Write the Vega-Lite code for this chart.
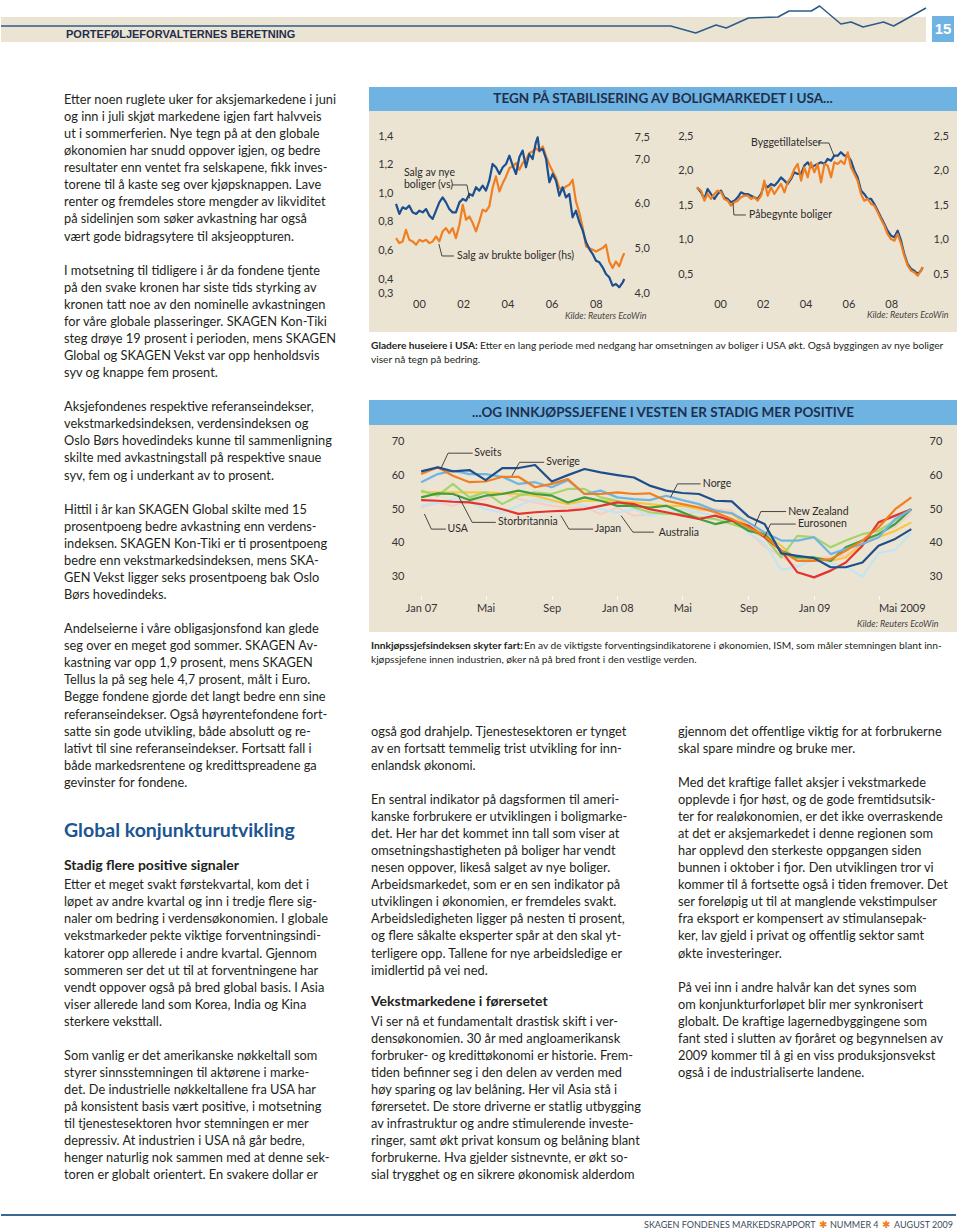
{
"$schema": "https://vega.github.io/schema/vega-lite/v6.json",
"padding": {"top": 5, "left": 0, "right": 0, "bottom": 0},
"autosize": {"type": "pad"},
"background": "white",
"config": {
  "font": "Lato",
  "view": {"stroke": null},
  "axis": {"domain": false, "ticks": false, "grid": false, "labelFontSize": 11, "labelColor": "#333333", "labelFont": "Lato", "titleFont": "Lato"},
  "line": {"strokeJoin": "round"}
},
"datasets": {
  "spark": [
    {"t": 0, "v": 16}, {"t": 72.4, "v": 16}, {"t": 75.1, "v": 9}, {"t": 77.3, "v": 17}, {"t": 78.4, "v": 14},
    {"t": 80.8, "v": 24}, {"t": 84.0, "v": 25}, {"t": 85.2, "v": 31}, {"t": 87.6, "v": 31}, {"t": 88.5, "v": 36},
    {"t": 90.8, "v": 18}, {"t": 91.9, "v": 20}, {"t": 93.2, "v": 15}, {"t": 95.4, "v": 20}, {"t": 96.5, "v": 16}, {"t": 100, "v": 34}
  ],
  "husA": [
    {"year": 1998.96, "nye": 0.926, "brukte": 5.235}, {"year": 1999.11, "nye": 0.856, "brukte": 5.123},
    {"year": 1999.26, "nye": 0.902, "brukte": 5.161}, {"year": 1999.41, "nye": 0.891, "brukte": 5.422},
    {"year": 1999.56, "nye": 0.914, "brukte": 5.198}, {"year": 1999.71, "nye": 0.867, "brukte": 5.161},
    {"year": 1999.87, "nye": 0.856, "brukte": 5.086}, {"year": 2000.02, "nye": 0.879, "brukte": 5.198},
    {"year": 2000.17, "nye": 0.867, "brukte": 5.161}, {"year": 2000.32, "nye": 0.891, "brukte": 5.198},
    {"year": 2000.47, "nye": 0.844, "brukte": 5.123}, {"year": 2000.62, "nye": 0.821, "brukte": 5.161},
    {"year": 2000.77, "nye": 0.879, "brukte": 5.273}, {"year": 2000.92, "nye": 0.937, "brukte": 5.161},
    {"year": 2001.07, "nye": 0.972, "brukte": 5.385}, {"year": 2001.22, "nye": 0.937, "brukte": 5.46},
    {"year": 2001.37, "nye": 0.891, "brukte": 5.348}, {"year": 2001.52, "nye": 0.867, "brukte": 5.46},
    {"year": 2001.67, "nye": 0.867, "brukte": 5.235}, {"year": 2001.83, "nye": 0.937, "brukte": 5.534},
    {"year": 2001.98, "nye": 0.961, "brukte": 5.983}, {"year": 2002.13, "nye": 0.949, "brukte": 5.646},
    {"year": 2002.28, "nye": 0.996, "brukte": 5.721}, {"year": 2002.43, "nye": 0.984, "brukte": 5.572},
    {"year": 2002.58, "nye": 1.043, "brukte": 5.385}, {"year": 2002.73, "nye": 1.019, "brukte": 5.609},
    {"year": 2002.88, "nye": 1.054, "brukte": 5.871}, {"year": 2003.03, "nye": 1.019, "brukte": 5.833},
    {"year": 2003.18, "nye": 1.089, "brukte": 5.945}, {"year": 2003.33, "nye": 1.206, "brukte": 6.357},
    {"year": 2003.48, "nye": 1.183, "brukte": 6.618}, {"year": 2003.64, "nye": 1.136, "brukte": 6.282},
    {"year": 2003.79, "nye": 1.183, "brukte": 6.469}, {"year": 2003.94, "nye": 1.206, "brukte": 6.618},
    {"year": 2004.09, "nye": 1.264, "brukte": 6.805}, {"year": 2004.24, "nye": 1.194, "brukte": 6.842},
    {"year": 2004.39, "nye": 1.136, "brukte": 6.917}, {"year": 2004.54, "nye": 1.253, "brukte": 6.768},
    {"year": 2004.69, "nye": 1.3, "brukte": 6.917}, {"year": 2004.84, "nye": 1.183, "brukte": 6.992},
    {"year": 2004.99, "nye": 1.276, "brukte": 7.141}, {"year": 2005.14, "nye": 1.241, "brukte": 7.179},
    {"year": 2005.29, "nye": 1.358, "brukte": 7.253}, {"year": 2005.37, "nye": 1.393, "brukte": 7.216},
    {"year": 2005.45, "nye": 1.3, "brukte": 7.179}, {"year": 2005.6, "nye": 1.311, "brukte": 7.291},
    {"year": 2005.75, "nye": 1.241, "brukte": 7.067}, {"year": 2005.9, "nye": 1.078, "brukte": 6.88},
    {"year": 2006.05, "nye": 1.136, "brukte": 6.73}, {"year": 2006.2, "nye": 1.089, "brukte": 6.581},
    {"year": 2006.35, "nye": 0.984, "brukte": 6.357}, {"year": 2006.5, "nye": 1.043, "brukte": 6.319},
    {"year": 2006.65, "nye": 0.972, "brukte": 6.394}, {"year": 2006.8, "nye": 0.996, "brukte": 6.431},
    {"year": 2006.95, "nye": 0.832, "brukte": 6.543}, {"year": 2007.1, "nye": 0.879, "brukte": 6.058},
    {"year": 2007.26, "nye": 0.797, "brukte": 5.796}, {"year": 2007.41, "nye": 0.739, "brukte": 5.46},
    {"year": 2007.56, "nye": 0.657, "brukte": 5.049}, {"year": 2007.71, "nye": 0.61, "brukte": 5.011},
    {"year": 2007.86, "nye": 0.575, "brukte": 4.974}, {"year": 2008.01, "nye": 0.528, "brukte": 4.937},
    {"year": 2008.16, "nye": 0.517, "brukte": 4.974}, {"year": 2008.31, "nye": 0.482, "brukte": 5.011},
    {"year": 2008.46, "nye": 0.435, "brukte": 5.086}, {"year": 2008.61, "nye": 0.412, "brukte": 4.712},
    {"year": 2008.76, "nye": 0.353, "brukte": 4.563}, {"year": 2008.91, "nye": 0.365, "brukte": 4.712},
    {"year": 2009.06, "nye": 0.342, "brukte": 4.6}, {"year": 2009.22, "nye": 0.377, "brukte": 4.824},
    {"year": 2009.29, "nye": 0.4, "brukte": 4.899}
  ],
  "husB": [
    {"year": 1998.93, "bygg": 1.759, "pabeg": 1.759}, {"year": 1999.11, "bygg": 1.686, "pabeg": 1.711},
    {"year": 1999.27, "bygg": 1.59, "pabeg": 1.565}, {"year": 1999.42, "bygg": 1.735, "pabeg": 1.662},
    {"year": 1999.58, "bygg": 1.662, "pabeg": 1.59}, {"year": 1999.74, "bygg": 1.59, "pabeg": 1.662},
    {"year": 1999.89, "bygg": 1.662, "pabeg": 1.711}, {"year": 2000.05, "bygg": 1.711, "pabeg": 1.686},
    {"year": 2000.2, "bygg": 1.614, "pabeg": 1.59}, {"year": 2000.36, "bygg": 1.59, "pabeg": 1.565},
    {"year": 2000.51, "bygg": 1.541, "pabeg": 1.493}, {"year": 2000.67, "bygg": 1.565, "pabeg": 1.541},
    {"year": 2000.83, "bygg": 1.614, "pabeg": 1.565}, {"year": 2000.98, "bygg": 1.686, "pabeg": 1.614},
    {"year": 2001.14, "bygg": 1.662, "pabeg": 1.638}, {"year": 2001.29, "bygg": 1.662, "pabeg": 1.638},
    {"year": 2001.45, "bygg": 1.638, "pabeg": 1.59}, {"year": 2001.6, "bygg": 1.614, "pabeg": 1.614},
    {"year": 2001.76, "bygg": 1.59, "pabeg": 1.565}, {"year": 2001.92, "bygg": 1.662, "pabeg": 1.638},
    {"year": 2002.07, "bygg": 1.808, "pabeg": 1.856}, {"year": 2002.23, "bygg": 1.759, "pabeg": 1.638},
    {"year": 2002.38, "bygg": 1.808, "pabeg": 1.759}, {"year": 2002.54, "bygg": 1.783, "pabeg": 1.662},
    {"year": 2002.69, "bygg": 1.832, "pabeg": 1.735}, {"year": 2002.85, "bygg": 1.904, "pabeg": 1.808},
    {"year": 2003.01, "bygg": 1.856, "pabeg": 1.686}, {"year": 2003.16, "bygg": 1.808, "pabeg": 1.832},
    {"year": 2003.32, "bygg": 1.88, "pabeg": 1.904}, {"year": 2003.47, "bygg": 1.977, "pabeg": 2.025},
    {"year": 2003.63, "bygg": 1.953, "pabeg": 2.098}, {"year": 2003.79, "bygg": 1.953, "pabeg": 1.856},
    {"year": 2003.94, "bygg": 2.074, "pabeg": 2.05}, {"year": 2004.1, "bygg": 2.122, "pabeg": 1.904},
    {"year": 2004.25, "bygg": 2.05, "pabeg": 2.122}, {"year": 2004.41, "bygg": 2.074, "pabeg": 1.977},
    {"year": 2004.56, "bygg": 2.098, "pabeg": 2.098}, {"year": 2004.72, "bygg": 2.122, "pabeg": 1.832},
    {"year": 2004.88, "bygg": 2.098, "pabeg": 2.098}, {"year": 2005.03, "bygg": 2.171, "pabeg": 2.074},
    {"year": 2005.19, "bygg": 2.146, "pabeg": 1.904}, {"year": 2005.34, "bygg": 2.219, "pabeg": 2.122},
    {"year": 2005.5, "bygg": 2.219, "pabeg": 2.098}, {"year": 2005.65, "bygg": 2.268, "pabeg": 2.146},
    {"year": 2005.81, "bygg": 2.219, "pabeg": 2.098}, {"year": 2005.97, "bygg": 2.219, "pabeg": 2.268},
    {"year": 2006.12, "bygg": 2.146, "pabeg": 2.05}, {"year": 2006.28, "bygg": 2.001, "pabeg": 1.953},
    {"year": 2006.43, "bygg": 1.904, "pabeg": 1.856}, {"year": 2006.59, "bygg": 1.711, "pabeg": 1.662},
    {"year": 2006.74, "bygg": 1.662, "pabeg": 1.565}, {"year": 2006.9, "bygg": 1.59, "pabeg": 1.59},
    {"year": 2007.06, "bygg": 1.59, "pabeg": 1.517}, {"year": 2007.21, "bygg": 1.517, "pabeg": 1.493},
    {"year": 2007.37, "bygg": 1.42, "pabeg": 1.396}, {"year": 2007.52, "bygg": 1.323, "pabeg": 1.299},
    {"year": 2007.68, "bygg": 1.226, "pabeg": 1.202}, {"year": 2007.83, "bygg": 1.13, "pabeg": 1.081},
    {"year": 2007.99, "bygg": 1.057, "pabeg": 1.008}, {"year": 2008.15, "bygg": 1.033, "pabeg": 0.984},
    {"year": 2008.3, "bygg": 1.13, "pabeg": 1.081}, {"year": 2008.46, "bygg": 0.984, "pabeg": 0.936},
    {"year": 2008.61, "bygg": 0.791, "pabeg": 0.766}, {"year": 2008.77, "bygg": 0.645, "pabeg": 0.621},
    {"year": 2008.93, "bygg": 0.573, "pabeg": 0.548}, {"year": 2009.08, "bygg": 0.548, "pabeg": 0.524},
    {"year": 2009.24, "bygg": 0.5, "pabeg": 0.476}, {"year": 2009.39, "bygg": 0.548, "pabeg": 0.548},
    {"year": 2009.47, "bygg": 0.597, "pabeg": 0.597}
  ],
  "ism": [
    {"date": "2007-01-01", "Norge": 61.2, "Sveits": 60.4, "Sverige": 58.0, "Storbritannia": 55.5, "Eurosonen": 53.5, "Japan": 52.7, "Australia": 55.0, "New Zealand": 51, "USA": 50.5},
    {"date": "2007-02-01", "Norge": 62.4, "Sveits": 62.4, "Sverige": 60.4, "Storbritannia": 54.0, "Eurosonen": 54.7, "Japan": 52.5, "Australia": 55.0, "New Zealand": 52, "USA": 52.0},
    {"date": "2007-03-01", "Norge": 61.2, "Sveits": 59.9, "Sverige": 61.4, "Storbritannia": 57.5, "Eurosonen": 54.5, "Japan": 52.2, "Australia": 55.0, "New Zealand": 53, "USA": 51.0},
    {"date": "2007-04-01", "Norge": 61.6, "Sveits": 58.0, "Sverige": 60.4, "Storbritannia": 53.5, "Eurosonen": 52.7, "Japan": 52.0, "Australia": 55.0, "New Zealand": 52, "USA": 52.5},
    {"date": "2007-05-01", "Norge": 58.6, "Sveits": 58.2, "Sverige": 60.4, "Storbritannia": 55.0, "Eurosonen": 54.0, "Japan": 51.3, "Australia": 55.0, "New Zealand": 50, "USA": 53.0},
    {"date": "2007-06-01", "Norge": 62.2, "Sveits": 59.6, "Sverige": 59.6, "Storbritannia": 51.5, "Eurosonen": 54.5, "Japan": 50.0, "Australia": 54.7, "New Zealand": 49, "USA": 55.0},
    {"date": "2007-07-01", "Norge": 62.2, "Sveits": 59.6, "Sverige": 57.5, "Storbritannia": 54.0, "Eurosonen": 55.5, "Japan": 48.6, "Australia": 54.5, "New Zealand": 51, "USA": 53.0},
    {"date": "2007-08-01", "Norge": 63.1, "Sveits": 56.5, "Sverige": 58.0, "Storbritannia": 55.0, "Eurosonen": 54.5, "Japan": 49.1, "Australia": 54.0, "New Zealand": 53, "USA": 52.0},
    {"date": "2007-09-01", "Norge": 58.2, "Sveits": 57.5, "Sverige": 56.5, "Storbritannia": 54.5, "Eurosonen": 54.0, "Japan": 49.4, "Australia": 52.7, "New Zealand": 52, "USA": 51.0},
    {"date": "2007-10-01", "Norge": 60.1, "Sveits": 58.9, "Sverige": 58.6, "Storbritannia": 56.0, "Eurosonen": 52.0, "Japan": 49.6, "Australia": 51.5, "New Zealand": 52, "USA": 50.5},
    {"date": "2007-11-01", "Norge": 61.9, "Sveits": 54.5, "Sverige": 54.5, "Storbritannia": 56.0, "Eurosonen": 53.5, "Japan": 50.0, "Australia": 52.5, "New Zealand": 51, "USA": 50.8},
    {"date": "2007-12-01", "Norge": 60.9, "Sveits": 54.5, "Sverige": 55.5, "Storbritannia": 53.5, "Eurosonen": 52.5, "Japan": 51.0, "Australia": 52.5, "New Zealand": 50, "USA": 48.5},
    {"date": "2008-01-01", "Norge": 60.1, "Sveits": 55.0, "Sverige": 53.5, "Storbritannia": 52.5, "Eurosonen": 51.0, "Japan": 52.0, "Australia": 52.3, "New Zealand": 49, "USA": 50.5},
    {"date": "2008-02-01", "Norge": 59.4, "Sveits": 54.5, "Sverige": 53.0, "Storbritannia": 50.5, "Eurosonen": 51.0, "Japan": 51.5, "Australia": 52.0, "New Zealand": 50, "USA": 48.0},
    {"date": "2008-03-01", "Norge": 57.0, "Sveits": 54.7, "Sverige": 52.7, "Storbritannia": 49.1, "Eurosonen": 50.5, "Japan": 50.0, "Australia": 51.5, "New Zealand": 48, "USA": 48.5},
    {"date": "2008-04-01", "Norge": 55.5, "Sveits": 52.5, "Sverige": 54.0, "Storbritannia": 48.6, "Eurosonen": 51.0, "Japan": 49.1, "Australia": 51.0, "New Zealand": 49, "USA": 49.0},
    {"date": "2008-05-01", "Norge": 54.8, "Sveits": 51.5, "Sverige": 52.7, "Storbritannia": 48.6, "Eurosonen": 49.1, "Japan": 48.1, "Australia": 51.0, "New Zealand": 50, "USA": 48.0},
    {"date": "2008-06-01", "Norge": 54.5, "Sveits": 50.5, "Sverige": 51.5, "Storbritannia": 47.6, "Eurosonen": 47.1, "Japan": 47.1, "Australia": 50.0, "New Zealand": 49, "USA": 49.5},
    {"date": "2008-07-01", "Norge": 52.5, "Sveits": 49.1, "Sverige": 49.6, "Storbritannia": 47.1, "Eurosonen": 45.6, "Japan": 48.1, "Australia": 49.6, "New Zealand": 48, "USA": 50.0},
    {"date": "2008-08-01", "Norge": 52.3, "Sveits": 47.1, "Sverige": 48.8, "Storbritannia": 45.6, "Eurosonen": 46.6, "Japan": 46.6, "Australia": 48.6, "New Zealand": 47, "USA": 49.5},
    {"date": "2008-09-01", "Norge": 47.8, "Sveits": 44.6, "Sverige": 46.1, "Storbritannia": 44.1, "Eurosonen": 43.6, "Japan": 45.1, "Australia": 45.1, "New Zealand": 43, "USA": 43.5},
    {"date": "2008-10-01", "Norge": 45.6, "Sveits": 42.1, "Sverige": 43.1, "Storbritannia": 41.7, "Eurosonen": 42.6, "Japan": 41.7, "Australia": 42.6, "New Zealand": 40, "USA": 38.9},
    {"date": "2008-11-01", "Norge": 36.9, "Sveits": 37.7, "Sverige": 40.7, "Storbritannia": 35.7, "Eurosonen": 37.7, "Japan": 37.7, "Australia": 39.2, "New Zealand": 32, "USA": 36.2},
    {"date": "2008-12-01", "Norge": 36.2, "Sveits": 34.7, "Sverige": 40.7, "Storbritannia": 42.1, "Eurosonen": 35.7, "Japan": 31.3, "Australia": 34.7, "New Zealand": 33, "USA": 32.9},
    {"date": "2009-01-01", "Norge": 35.5, "Sveits": 34.7, "Sverige": 41.7, "Storbritannia": 41.7, "Eurosonen": 35.7, "Japan": 29.8, "Australia": 35.2, "New Zealand": 35, "USA": 35.6},
    {"date": "2009-02-01", "Norge": 32.8, "Sveits": 35.2, "Sverige": 36.7, "Storbritannia": 38.7, "Eurosonen": 34.7, "Japan": 31.8, "Australia": 34.7, "New Zealand": 34, "USA": 35.8},
    {"date": "2009-03-01", "Norge": 32.8, "Sveits": 37.7, "Sverige": 38.2, "Storbritannia": 40.7, "Eurosonen": 38.7, "Japan": 34.2, "Australia": 35.7, "New Zealand": 33, "USA": 36.3},
    {"date": "2009-04-01", "Norge": 34.2, "Sveits": 40.7, "Sverige": 39.7, "Storbritannia": 42.6, "Eurosonen": 40.7, "Japan": 39.2, "Australia": 39.7, "New Zealand": 30, "USA": 40.1},
    {"date": "2009-05-01", "Norge": 39.2, "Sveits": 44.6, "Sverige": 41.7, "Storbritannia": 43.6, "Eurosonen": 42.6, "Japan": 46.1, "Australia": 41.7, "New Zealand": 37, "USA": 42.8},
    {"date": "2009-06-01", "Norge": 41.2, "Sveits": 50.0, "Sverige": 47.1, "Storbritannia": 46.6, "Eurosonen": 45.6, "Japan": 48.1, "Australia": 43.6, "New Zealand": 38, "USA": 44.8},
    {"date": "2009-07-01", "Norge": 44.1, "Sveits": 53.5, "Sverige": 50.0, "Storbritannia": 50.0, "Eurosonen": 50.0, "Japan": 50.0, "Australia": 46.1, "New Zealand": 43, "USA": 48.9}
  ],
  "col1": [
    {"line": 0, "text": "Etter noen ruglete uker for aksjemarkedene i juni"},
    {"line": 1, "text": "og inn i juli skjøt markedene igjen fart halvveis"},
    {"line": 2, "text": "ut i sommerferien. Nye tegn på at den globale"},
    {"line": 3, "text": "økonomien har snudd oppover igjen, og bedre"},
    {"line": 4, "text": "resultater enn ventet fra selskapene, fikk inves-"},
    {"line": 5, "text": "torene til å kaste seg over kjøpsknappen. Lave"},
    {"line": 6, "text": "renter og fremdeles store mengder av likviditet"},
    {"line": 7, "text": "på sidelinjen som søker avkastning har også"},
    {"line": 8, "text": "vært gode bidragsytere til aksjeoppturen."},
    {"line": 10, "text": "I motsetning til tidligere i år da fondene tjente"},
    {"line": 11, "text": "på den svake kronen har siste tids styrking av"},
    {"line": 12, "text": "kronen tatt noe av den nominelle avkastningen"},
    {"line": 13, "text": "for våre globale plasseringer. SKAGEN Kon-Tiki"},
    {"line": 14, "text": "steg drøye 19 prosent i perioden, mens SKAGEN"},
    {"line": 15, "text": "Global og SKAGEN Vekst var opp henholdsvis"},
    {"line": 16, "text": "syv og knappe fem prosent."},
    {"line": 18, "text": "Aksjefondenes respektive referanseindekser,"},
    {"line": 19, "text": "vekstmarkedsindeksen, verdensindeksen og"},
    {"line": 20, "text": "Oslo Børs hovedindeks kunne til sammenligning"},
    {"line": 21, "text": "skilte med avkastningstall på respektive snaue"},
    {"line": 22, "text": "syv, fem og i underkant av to prosent."},
    {"line": 24, "text": "Hittil i år kan SKAGEN Global skilte med 15"},
    {"line": 25, "text": "prosentpoeng bedre avkastning enn verdens-"},
    {"line": 26, "text": "indeksen. SKAGEN Kon-Tiki er ti prosentpoeng"},
    {"line": 27, "text": "bedre enn vekstmarkedsindeksen, mens SKA-"},
    {"line": 28, "text": "GEN Vekst ligger seks prosentpoeng bak Oslo"},
    {"line": 29, "text": "Børs hovedindeks."},
    {"line": 31, "text": "Andelseierne i våre obligasjonsfond kan glede"},
    {"line": 32, "text": "seg over en meget god sommer. SKAGEN Av-"},
    {"line": 33, "text": "kastning var opp 1,9 prosent, mens SKAGEN"},
    {"line": 34, "text": "Tellus la på seg hele 4,7 prosent, målt i Euro."},
    {"line": 35, "text": "Begge fondene gjorde det langt bedre enn sine"},
    {"line": 36, "text": "referanseindekser. Også høyrentefondene fort-"},
    {"line": 37, "text": "satte sin gode utvikling, både absolutt og re-"},
    {"line": 38, "text": "lativt til sine referanseindekser. Fortsatt fall i"},
    {"line": 39, "text": "både markedsrentene og kredittspreadene ga"},
    {"line": 40, "text": "gevinster for fondene."},
    {"line": 46, "text": "Etter et meget svakt førstekvartal, kom det i"},
    {"line": 47, "text": "løpet av andre kvartal og inn i tredje flere sig-"},
    {"line": 48, "text": "naler om bedring i verdensøkonomien. I globale"},
    {"line": 49, "text": "vekstmarkeder pekte viktige forventningsindi-"},
    {"line": 50, "text": "katorer opp allerede i andre kvartal. Gjennom"},
    {"line": 51, "text": "sommeren ser det ut til at forventningene har"},
    {"line": 52, "text": "vendt oppover også på bred global basis. I Asia"},
    {"line": 53, "text": "viser allerede land som Korea, India og Kina"},
    {"line": 54, "text": "sterkere veksttall."},
    {"line": 56, "text": "Som vanlig er det amerikanske nøkkeltall som"},
    {"line": 57, "text": "styrer sinnsstemningen til aktørene i marke-"},
    {"line": 58, "text": "det. De industrielle nøkkeltallene fra USA har"},
    {"line": 59, "text": "på konsistent basis vært positive, i motsetning"},
    {"line": 60, "text": "til tjenestesektoren hvor stemningen er mer"},
    {"line": 61, "text": "depressiv. At industrien i USA nå går bedre,"},
    {"line": 62, "text": "henger naturlig nok sammen med at denne sek-"},
    {"line": 63, "text": "toren er globalt orientert. En svakere dollar er"}
  ],
  "col2": [
    {"line": 37, "text": "også god drahjelp. Tjenestesektoren er tynget"},
    {"line": 38, "text": "av en fortsatt temmelig trist utvikling for inn-"},
    {"line": 39, "text": "enlandsk økonomi."},
    {"line": 41, "text": "En sentral indikator på dagsformen til ameri-"},
    {"line": 42, "text": "kanske forbrukere er utviklingen i boligmarke-"},
    {"line": 43, "text": "det. Her har det kommet inn tall som viser at"},
    {"line": 44, "text": "omsetningshastigheten på boliger har vendt"},
    {"line": 45, "text": "nesen oppover, likeså salget av nye boliger."},
    {"line": 46, "text": "Arbeidsmarkedet, som er en sen indikator på"},
    {"line": 47, "text": "utviklingen i økonomien, er fremdeles svakt."},
    {"line": 48, "text": "Arbeidsledigheten ligger på nesten ti prosent,"},
    {"line": 49, "text": "og flere såkalte eksperter spår at den skal yt-"},
    {"line": 50, "text": "terligere opp. Tallene for nye arbeidsledige er"},
    {"line": 51, "text": "imidlertid på vei ned."},
    {"line": 54, "text": "Vi ser nå et fundamentalt drastisk skift i ver-"},
    {"line": 55, "text": "densøkonomien. 30 år med angloamerikansk"},
    {"line": 56, "text": "forbruker- og kredittøkonomi er historie. Frem-"},
    {"line": 57, "text": "tiden befinner seg i den delen av verden med"},
    {"line": 58, "text": "høy sparing og lav belåning. Her vil Asia stå i"},
    {"line": 59, "text": "førersetet. De store driverne er statlig utbygging"},
    {"line": 60, "text": "av infrastruktur og andre stimulerende investe-"},
    {"line": 61, "text": "ringer, samt økt privat konsum og belåning blant"},
    {"line": 62, "text": "forbrukerne. Hva gjelder sistnevnte, er økt so-"},
    {"line": 63, "text": "sial trygghet og en sikrere økonomisk alderdom"}
  ],
  "col3": [
    {"line": 37, "text": "gjennom det offentlige viktig for at forbrukerne"},
    {"line": 38, "text": "skal spare mindre og bruke mer."},
    {"line": 40, "text": "Med det kraftige fallet aksjer i vekstmarkede"},
    {"line": 41, "text": "opplevde i fjor høst, og de gode fremtidsutsik-"},
    {"line": 42, "text": "ter for realøkonomien, er det ikke overraskende"},
    {"line": 43, "text": "at det er aksjemarkedet i denne regionen som"},
    {"line": 44, "text": "har opplevd den sterkeste oppgangen siden"},
    {"line": 45, "text": "bunnen i oktober i fjor. Den utviklingen tror vi"},
    {"line": 46, "text": "kommer til å fortsette også i tiden fremover. Det"},
    {"line": 47, "text": "ser foreløpig ut til at manglende vekstimpulser"},
    {"line": 48, "text": "fra eksport er kompensert av stimulansepak-"},
    {"line": 49, "text": "ker, lav gjeld i privat og offentlig sektor samt"},
    {"line": 50, "text": "økte investeringer."},
    {"line": 52, "text": "På vei inn i andre halvår kan det synes som"},
    {"line": 53, "text": "om konjunkturforløpet blir mer synkronisert"},
    {"line": 54, "text": "globalt. De kraftige lagernedbyggingene som"},
    {"line": 55, "text": "fant sted i slutten av fjoråret og begynnelsen av"},
    {"line": 56, "text": "2009 kommer til å gi en viss produksjonsvekst"},
    {"line": 57, "text": "også i de industrialiserte landene."}
  ]
},
"vconcat": [
  {
    "width": 954, "height": 36,
    "layer": [
      {"data": {"values": [{"part": "band"}]},
       "mark": {"type": "rect", "color": "#ece4d3"},
       "encoding": {"x": {"datum": 0, "type": "quantitative", "scale": {"domain": [0, 103.135], "nice": false, "zero": false}, "axis": null},
                    "x2": {"datum": 100},
                    "y": {"datum": 0, "type": "quantitative", "scale": {"domain": [0, 36], "nice": false, "zero": false}, "axis": null},
                    "y2": {"datum": 25}}},
      {"data": {"values": [{"part": "box"}]},
       "mark": {"type": "rect", "color": "#6fb3e2"},
       "encoding": {"x": {"datum": 100.65, "type": "quantitative", "scale": {"domain": [0, 103.135], "nice": false, "zero": false}, "axis": null},
                    "x2": {"datum": 103.03},
                    "y": {"datum": 0, "type": "quantitative", "scale": {"domain": [0, 36], "nice": false, "zero": false}, "axis": null},
                    "y2": {"datum": 26}}},
      {"data": {"name": "spark"}, "mark": {"type": "line", "color": "#2c5b89", "strokeWidth": 1.5},
       "encoding": {"x": {"field": "t", "type": "quantitative", "scale": {"domain": [0, 103.135], "nice": false, "zero": false}, "axis": null},
                    "y": {"field": "v", "type": "quantitative", "scale": {"domain": [0, 36], "nice": false, "zero": false}, "axis": null}}},
      {"data": {"values": [{"text": "PORTEFØLJEFORVALTERNES BERETNING"}]},
       "mark": {"type": "text", "align": "left", "baseline": "middle", "font": "Liberation Sans", "fontSize": 11, "fontWeight": "bold", "color": "#1e2f4e"},
       "encoding": {"x": {"datum": 7.03, "type": "quantitative", "scale": {"domain": [0, 103.135], "nice": false, "zero": false}, "axis": null},
                    "y": {"datum": 7, "type": "quantitative", "scale": {"domain": [0, 36], "nice": false, "zero": false}, "axis": null},
                    "text": {"field": "text"}}},
      {"data": {"values": [{"text": "15"}]},
       "mark": {"type": "text", "align": "center", "baseline": "middle", "font": "Liberation Sans", "fontSize": 15, "fontWeight": "bold", "color": "white"},
       "encoding": {"x": {"datum": 101.84, "type": "quantitative", "scale": {"domain": [0, 103.135], "nice": false, "zero": false}, "axis": null},
                    "y": {"datum": 13, "type": "quantitative", "scale": {"domain": [0, 36], "nice": false, "zero": false}, "axis": null},
                    "text": {"field": "text"}}}
    ]
  },
  {
    "vconcat": [
      {
        "hconcat": [
          {
            "width": 40, "height": 1102,
            "data": {"values": [{"text": ""}]},
            "mark": {"type": "text"},
            "encoding": {"text": {"field": "text"}}
          },
          {
            "width": 282, "height": 1102,
            "layer": [
              {"data": {"name": "col1"},
               "mark": {"type": "text", "align": "left", "baseline": "middle", "fontSize": 12.8, "color": "#231f20"},
               "encoding": {"x": {"datum": 0, "type": "quantitative", "scale": {"domain": [0, 1]}, "axis": null},
                            "y": {"field": "line", "type": "quantitative", "scale": {"domain": [-0.7616, 63.796], "reverse": true, "nice": false, "zero": false}, "axis": null},
                            "text": {"field": "text"}}},
              {"data": {"values": [{"line": 43, "text": "Global konjunkturutvikling"}]},
               "mark": {"type": "text", "align": "left", "baseline": "middle", "fontSize": 19.5, "fontWeight": "bold", "color": "#1b5592", "dy": -3},
               "encoding": {"x": {"datum": 0, "type": "quantitative", "scale": {"domain": [0, 1]}, "axis": null},
                            "y": {"field": "line", "type": "quantitative", "scale": {"domain": [-0.7616, 63.796], "reverse": true, "nice": false, "zero": false}, "axis": null},
                            "text": {"field": "text"}}},
              {"data": {"values": [{"line": 45, "text": "Stadig flere positive signaler"}]},
               "mark": {"type": "text", "align": "left", "baseline": "middle", "fontSize": 14, "fontWeight": "bold", "color": "#231f20", "dy": -2},
               "encoding": {"x": {"datum": 0, "type": "quantitative", "scale": {"domain": [0, 1]}, "axis": null},
                            "y": {"field": "line", "type": "quantitative", "scale": {"domain": [-0.7616, 63.796], "reverse": true, "nice": false, "zero": false}, "axis": null},
                            "text": {"field": "text"}}}
            ]
          },
          {
            "vconcat": [
              {
                "width": 588, "height": 24,
                "view": {"fill": "#6fb3e2", "stroke": null},
                "data": {"values": [{"text": "TEGN PÅ STABILISERING AV BOLIGMARKEDET I USA..."}]},
                "mark": {"type": "text", "align": "center", "baseline": "middle", "fontSize": 13.5, "fontWeight": "bold", "color": "#1e2f4e"},
                "encoding": {"text": {"field": "text"}}
              },
              {
                "hconcat": [
                  {
                    "width": 294, "height": 221,
                    "view": {"fill": "#ece4d3", "stroke": null},
                    "encoding": {
                      "x": {"field": "year", "type": "quantitative",
                            "scale": {"domain": [1997.738, 2011.041], "nice": false, "zero": false},
                            "axis": {"orient": "bottom", "offset": -39, "values": [2000, 2002, 2004, 2006, 2008], "labelExpr": "slice(toString(datum.value), 2)", "labelPadding": 5,
                                     "title": "Kilde: Reuters EcoWin", "titleX": 277, "titleY": 22, "titleAlign": "right", "titleBaseline": "middle", "titleFontStyle": "italic", "titleFontWeight": "normal", "titleFontSize": 9, "titleColor": "#444444"}}
                    },
                    "layer": [
                      {
                        "layer": [
                          {"data": {"values": [{"v": 5}, {"v": 6}, {"v": 7}, {"v": 7.5}]},
                           "mark": {"type": "rule", "color": "white", "strokeWidth": 1, "strokeDash": [2, 3]},
                           "encoding": {"x": {"datum": 1998.96}, "x2": {"datum": 2009.45},
                                        "y": {"field": "v", "type": "quantitative", "scale": {"domain": [3.13, 8.085], "nice": false, "zero": false},
                                              "axis": {"orient": "right", "offset": -32, "values": [4, 5, 6, 7, 7.5], "labelExpr": "replace(format(datum.value, '.1f'), '.', ',')", "labelPadding": 3, "title": null}}}},
                          {"data": {"name": "husA"},
                           "mark": {"type": "line", "color": "#f07f22", "strokeWidth": 2.2},
                           "encoding": {"y": {"field": "brukte", "type": "quantitative", "scale": {"domain": [3.13, 8.085], "nice": false, "zero": false},
                                              "axis": {"orient": "right", "offset": -32, "values": [4, 5, 6, 7, 7.5], "labelExpr": "replace(format(datum.value, '.1f'), '.', ',')", "labelPadding": 3, "title": null}}}},
                          {"data": {"values": [{"label": "Salg av brukte boliger (hs)", "year": 2001.72, "value": 4.834}]},
                           "mark": {"type": "text", "align": "left", "baseline": "middle", "fontSize": 10.5, "color": "#2b2b2b"},
                           "encoding": {"y": {"field": "value", "type": "quantitative", "scale": {"domain": [3.13, 8.085], "nice": false, "zero": false},
                                              "axis": {"orient": "right", "offset": -32, "values": [4, 5, 6, 7, 7.5], "labelExpr": "replace(format(datum.value, '.1f'), '.', ',')", "labelPadding": 3, "title": null}},
                                        "text": {"field": "label"}}},
                          {"data": {"values": [{"ord": 0, "year": 2001.58, "value": 4.834}, {"ord": 1, "year": 2001.04, "value": 4.834}, {"ord": 2, "year": 2000.9, "value": 5.103}]},
                           "mark": {"type": "line", "color": "#333333", "strokeWidth": 0.9},
                           "encoding": {"y": {"field": "value", "type": "quantitative", "scale": {"domain": [3.13, 8.085], "nice": false, "zero": false},
                                              "axis": {"orient": "right", "offset": -32, "values": [4, 5, 6, 7, 7.5], "labelExpr": "replace(format(datum.value, '.1f'), '.', ',')", "labelPadding": 3, "title": null}},
                                        "order": {"field": "ord"}}}
                        ]
                      },
                      {
                        "layer": [
                          {"data": {"values": [{"v": 0.3}]},
                           "mark": {"type": "rule", "color": "white", "strokeWidth": 1.3},
                           "encoding": {"x": {"datum": 1998.96}, "x2": {"datum": 2009.5},
                                        "y": {"field": "v", "type": "quantitative", "scale": {"domain": [0.0286, 1.5773], "nice": false, "zero": false},
                                              "axis": {"orient": "left", "offset": -27, "values": [0.3, 0.4, 0.6, 0.8, 1.0, 1.2, 1.4], "labelExpr": "replace(format(datum.value, '.1f'), '.', ',')", "labelPadding": 3, "title": null}}}},
                          {"data": {"name": "husA"},
                           "mark": {"type": "line", "color": "#1b4f8e", "strokeWidth": 2.2},
                           "encoding": {"y": {"field": "nye", "type": "quantitative", "scale": {"domain": [0.0286, 1.5773], "nice": false, "zero": false},
                                              "axis": {"orient": "left", "offset": -27, "values": [0.3, 0.4, 0.6, 0.8, 1.0, 1.2, 1.4], "labelExpr": "replace(format(datum.value, '.1f'), '.', ',')", "labelPadding": 3, "title": null}}}},
                          {"data": {"values": [{"label": "Salg av nye", "year": 1999.32, "value": 1.143}, {"label": "boliger (vs)", "year": 1999.32, "value": 1.059}]},
                           "mark": {"type": "text", "align": "left", "baseline": "middle", "fontSize": 10.5, "color": "#2b2b2b"},
                           "encoding": {"y": {"field": "value", "type": "quantitative", "scale": {"domain": [0.0286, 1.5773], "nice": false, "zero": false},
                                              "axis": {"orient": "left", "offset": -27, "values": [0.3, 0.4, 0.6, 0.8, 1.0, 1.2, 1.4], "labelExpr": "replace(format(datum.value, '.1f'), '.', ',')", "labelPadding": 3, "title": null}},
                                        "text": {"field": "label"}}},
                          {"data": {"values": [{"ord": 0, "year": 2001.49, "value": 1.059}, {"ord": 1, "year": 2002.17, "value": 1.059}, {"ord": 2, "year": 2002.29, "value": 0.965}]},
                           "mark": {"type": "line", "color": "#333333", "strokeWidth": 0.9},
                           "encoding": {"y": {"field": "value", "type": "quantitative", "scale": {"domain": [0.0286, 1.5773], "nice": false, "zero": false},
                                              "axis": {"orient": "left", "offset": -27, "values": [0.3, 0.4, 0.6, 0.8, 1.0, 1.2, 1.4], "labelExpr": "replace(format(datum.value, '.1f'), '.', ',')", "labelPadding": 3, "title": null}},
                                        "order": {"field": "ord"}}}
                        ]
                      }
                    ],
                    "resolve": {"scale": {"y": "independent"}}
                  },
                  {
                    "width": 294, "height": 221,
                    "view": {"fill": "#ece4d3", "stroke": null},
                    "encoding": {
                      "x": {"field": "year", "type": "quantitative",
                            "scale": {"domain": [1997.336, 2011.075], "nice": false, "zero": false},
                            "axis": {"orient": "bottom", "offset": -39, "values": [2000, 2002, 2004, 2006, 2008], "labelExpr": "slice(toString(datum.value), 2)", "labelPadding": 5,
                                     "title": "Kilde: Reuters EcoWin", "titleX": 285, "titleY": 21, "titleAlign": "right", "titleBaseline": "middle", "titleFontStyle": "italic", "titleFontWeight": "normal", "titleFontSize": 9, "titleColor": "#444444"}}
                    },
                    "layer": [
                      {
                        "layer": [
                          {"data": {"values": [{"v": 0.5}, {"v": 1}, {"v": 1.5}, {"v": 2}, {"v": 2.5}]},
                           "mark": {"type": "rule", "color": "white", "strokeWidth": 1, "strokeDash": [2, 3]},
                           "encoding": {"x": {"datum": 1998.93}, "x2": {"datum": 2009.47},
                                        "y": {"field": "v", "type": "quantitative", "scale": {"domain": [-0.3424, 2.8675], "nice": false, "zero": false},
                                              "axis": {"orient": "right", "offset": -27, "values": [0.5, 1, 1.5, 2, 2.5], "labelExpr": "replace(format(datum.value, '.1f'), '.', ',')", "labelPadding": 3, "title": null}}}}
                        ]
                      },
                      {
                        "layer": [
                          {"data": {"values": [{"v": 0.25}]},
                           "mark": {"type": "rule", "color": "white", "strokeWidth": 1.3},
                           "encoding": {"x": {"datum": 1998.93}, "x2": {"datum": 2009.5},
                                        "y": {"field": "v", "type": "quantitative", "scale": {"domain": [-0.3424, 2.8675], "nice": false, "zero": false},
                                              "axis": {"orient": "left", "offset": -33, "values": [0.5, 1, 1.5, 2, 2.5], "labelExpr": "replace(format(datum.value, '.1f'), '.', ',')", "labelPadding": 3, "title": null}}}},
                          {"data": {"name": "husB"},
                           "mark": {"type": "line", "color": "#1b4f8e", "strokeWidth": 2.2},
                           "encoding": {"y": {"field": "bygg", "type": "quantitative", "scale": {"domain": [-0.3424, 2.8675], "nice": false, "zero": false},
                                              "axis": {"orient": "left", "offset": -33, "values": [0.5, 1, 1.5, 2, 2.5], "labelExpr": "replace(format(datum.value, '.1f'), '.', ',')", "labelPadding": 3, "title": null}}}},
                          {"data": {"name": "husB"},
                           "mark": {"type": "line", "color": "#f07f22", "strokeWidth": 2.2},
                           "encoding": {"y": {"field": "pabeg", "type": "quantitative", "scale": {"domain": [-0.3424, 2.8675], "nice": false, "zero": false},
                                              "axis": {"orient": "left", "offset": -33, "values": [0.5, 1, 1.5, 2, 2.5], "labelExpr": "replace(format(datum.value, '.1f'), '.', ',')", "labelPadding": 3, "title": null}}}},
                          {"data": {"values": [{"label": "Byggetillatelser", "year": 2001.45, "value": 2.403}, {"label": "Påbegynte boliger", "year": 2001.36, "value": 1.357}]},
                           "mark": {"type": "text", "align": "left", "baseline": "middle", "fontSize": 10.5, "color": "#2b2b2b"},
                           "encoding": {"y": {"field": "value", "type": "quantitative", "scale": {"domain": [-0.3424, 2.8675], "nice": false, "zero": false},
                                              "axis": {"orient": "left", "offset": -33, "values": [0.5, 1, 1.5, 2, 2.5], "labelExpr": "replace(format(datum.value, '.1f'), '.', ',')", "labelPadding": 3, "title": null}},
                                        "text": {"field": "label"}}},
                          {"data": {"values": [
                              {"id": "bygg", "ord": 0, "year": 2004.58, "value": 2.403}, {"id": "bygg", "ord": 1, "year": 2005.09, "value": 2.403}, {"id": "bygg", "ord": 2, "year": 2005.33, "value": 2.214},
                              {"id": "pabeg", "ord": 0, "year": 2001.21, "value": 1.357}, {"id": "pabeg", "ord": 1, "year": 2000.65, "value": 1.357}, {"id": "pabeg", "ord": 2, "year": 2000.61, "value": 1.531}]},
                           "mark": {"type": "line", "color": "#333333", "strokeWidth": 0.9},
                           "encoding": {"y": {"field": "value", "type": "quantitative", "scale": {"domain": [-0.3424, 2.8675], "nice": false, "zero": false},
                                              "axis": {"orient": "left", "offset": -33, "values": [0.5, 1, 1.5, 2, 2.5], "labelExpr": "replace(format(datum.value, '.1f'), '.', ',')", "labelPadding": 3, "title": null}},
                                        "detail": {"field": "id"}, "order": {"field": "ord"}}}
                        ]
                      }
                    ],
                    "resolve": {"scale": {"y": "independent"}}
                  }
                ],
                "spacing": 0
              },
              {
                "width": 588, "height": 68,
                "layer": [
                  {"data": {"values": [{"line": 0, "text": "Gladere huseiere i USA:"}]},
                   "mark": {"type": "text", "align": "left", "baseline": "middle", "fontSize": 10.2, "fontWeight": "bold", "color": "#231f20", "dx": 2},
                   "encoding": {"x": {"datum": 0, "type": "quantitative", "scale": {"domain": [0, 1]}, "axis": null},
                                "y": {"field": "line", "type": "quantitative", "scale": {"domain": [-1, 3.857], "reverse": true, "nice": false, "zero": false}, "axis": null},
                                "text": {"field": "text"}}},
                  {"data": {"values": [{"line": 0, "text": "Etter en lang periode med nedgang har omsetningen av boliger i USA økt. Også byggingen av nye boliger"}]},
                   "mark": {"type": "text", "align": "left", "baseline": "middle", "fontSize": 10.2, "color": "#231f20", "dx": 111},
                   "encoding": {"x": {"datum": 0, "type": "quantitative", "scale": {"domain": [0, 1]}, "axis": null},
                                "y": {"field": "line", "type": "quantitative", "scale": {"domain": [-1, 3.857], "reverse": true, "nice": false, "zero": false}, "axis": null},
                                "text": {"field": "text"}}},
                  {"data": {"values": [{"line": 1, "text": "viser nå tegn på bedring."}]},
                   "mark": {"type": "text", "align": "left", "baseline": "middle", "fontSize": 10.2, "color": "#231f20", "dx": 2},
                   "encoding": {"x": {"datum": 0, "type": "quantitative", "scale": {"domain": [0, 1]}, "axis": null},
                                "y": {"field": "line", "type": "quantitative", "scale": {"domain": [-1, 3.857], "reverse": true, "nice": false, "zero": false}, "axis": null},
                                "text": {"field": "text"}}}
                ]
              },
              {
                "width": 588, "height": 25,
                "view": {"fill": "#6fb3e2", "stroke": null},
                "data": {"values": [{"text": "...OG INNKJØPSSJEFENE I VESTEN ER STADIG MER POSITIVE"}]},
                "mark": {"type": "text", "align": "center", "baseline": "middle", "fontSize": 13.5, "fontWeight": "bold", "color": "#1e2f4e"},
                "encoding": {"text": {"field": "text"}}
              },
              {
                "width": 588, "height": 207,
                "view": {"fill": "#ece4d3", "stroke": null},
                "encoding": {
                  "x": {"field": "date", "type": "temporal",
                        "scale": {"type": "utc", "domain": [{"year": 2006, "month": 9, "date": 26, "utc": true}, {"year": 2009, "month": 9, "date": 24, "utc": true}], "nice": false},
                        "axis": {"orient": "bottom", "offset": -36,
                                 "values": [{"year": 2007, "month": 1, "date": 1, "utc": true}, {"year": 2007, "month": 5, "date": 1, "utc": true}, {"year": 2007, "month": 9, "date": 1, "utc": true}, {"year": 2008, "month": 1, "date": 1, "utc": true}, {"year": 2008, "month": 5, "date": 1, "utc": true}, {"year": 2008, "month": 9, "date": 1, "utc": true}, {"year": 2009, "month": 1, "date": 1, "utc": true}, {"year": 2009, "month": 5, "date": 1, "utc": true}],
                                 "labelExpr": "['Jan','Feb','Mar','Apr','Mai','Jun','Jul','Aug','Sep','Okt','Nov','Des'][utcmonth(datum.value)] + (utcmonth(datum.value) == 0 ? ' ' + utcFormat(datum.value, '%y') : (utcyear(datum.value) == 2009 && utcmonth(datum.value) == 4 ? '  2009' : ''))",
                                 "labelAlign": {"condition": {"test": "utcyear(datum.value) == 2009 && utcmonth(datum.value) == 4", "value": "left"}, "value": "center"},
                                 "ticks": true, "tickColor": "white", "tickSize": 3, "labelPadding": 3,
                                 "title": "Kilde: Reuters EcoWin", "titleX": 569, "titleY": 27, "titleAlign": "right", "titleBaseline": "middle", "titleFontStyle": "italic", "titleFontWeight": "normal", "titleFontSize": 9, "titleColor": "#444444"}}
                },
                "layer": [
                  {
                    "layer": [
                      {"data": {"values": [{"v": 30}, {"v": 40}, {"v": 50}, {"v": 60}, {"v": 70}]},
                       "mark": {"type": "rule", "color": "white", "strokeWidth": 1, "strokeDash": [2, 3]},
                       "encoding": {"x": {"datum": {"year": 2006, "month": 12, "date": 13, "utc": true}, "type": "temporal"},
                                    "x2": {"datum": {"year": 2009, "month": 7, "date": 25, "utc": true}},
                                    "y": {"field": "v", "type": "quantitative", "scale": {"domain": [13.615, 74.948], "nice": false, "zero": false},
                                          "axis": {"orient": "right", "offset": -31, "values": [30, 40, 50, 60, 70], "labelPadding": 3, "title": null}}}}
                    ]
                  },
                  {
                    "layer": [
                      {"data": {"values": [{"v": 24.37}]},
                       "mark": {"type": "rule", "color": "white", "strokeWidth": 1.3},
                       "encoding": {"x": {"datum": {"year": 2006, "month": 12, "date": 13, "utc": true}, "type": "temporal"},
                                    "x2": {"datum": {"year": 2009, "month": 7, "date": 19, "utc": true}},
                                    "y": {"field": "v", "type": "quantitative", "scale": {"domain": [13.615, 74.948], "nice": false, "zero": false},
                                          "axis": {"orient": "left", "offset": -38, "values": [30, 40, 50, 60, 70], "labelPadding": 3, "title": null}}}},
                      {"data": {"name": "ism"},
                       "transform": [{"fold": ["USA", "New Zealand", "Australia", "Storbritannia", "Eurosonen", "Japan", "Sverige", "Sveits", "Norge"], "as": ["land", "pmi"]}],
                       "mark": {"type": "line", "strokeWidth": 2.2},
                       "encoding": {"y": {"field": "pmi", "type": "quantitative", "scale": {"domain": [13.615, 74.948], "nice": false, "zero": false},
                                          "axis": {"orient": "left", "offset": -38, "values": [30, 40, 50, 60, 70], "labelPadding": 3, "title": null}},
                                    "color": {"field": "land", "type": "nominal",
                                              "scale": {"domain": ["USA", "New Zealand", "Australia", "Storbritannia", "Eurosonen", "Japan", "Sverige", "Sveits", "Norge"],
                                                        "range": ["#f3cfc6", "#c5e4f3", "#f7c744", "#a5d46a", "#3f9f3f", "#e2332e", "#6db5e3", "#f07f22", "#1d4f8c"]},
                                              "legend": null}}},
                      {"data": {"values": [
                          {"label": "Sveits", "date": "2007-04-10", "value": 66.6},
                          {"label": "Sverige", "date": "2007-08-22", "value": 63.9},
                          {"label": "USA", "date": "2007-02-19", "value": 44.1},
                          {"label": "Storbritannia", "date": "2007-05-24", "value": 46.1},
                          {"label": "Japan", "date": "2007-11-20", "value": 44.1},
                          {"label": "Australia", "date": "2008-03-18", "value": 42.9},
                          {"label": "Norge", "date": "2008-06-08", "value": 57.5},
                          {"label": "New Zealand", "date": "2008-11-14", "value": 49.3},
                          {"label": "Eurosonen", "date": "2008-12-02", "value": 45.6}]},
                       "mark": {"type": "text", "align": "left", "baseline": "middle", "fontSize": 10.5, "color": "#2b2b2b"},
                       "encoding": {"y": {"field": "value", "type": "quantitative", "scale": {"domain": [13.615, 74.948], "nice": false, "zero": false},
                                          "axis": {"orient": "left", "offset": -38, "values": [30, 40, 50, 60, 70], "labelPadding": 3, "title": null}},
                                    "text": {"field": "label"}}},
                      {"data": {"values": [
                          {"id": "Sveits", "ord": 0, "date": "2007-04-07", "value": 66.6}, {"id": "Sveits", "ord": 1, "date": "2007-02-20", "value": 66.6}, {"id": "Sveits", "ord": 2, "date": "2007-02-07", "value": 62.1},
                          {"id": "Sverige", "ord": 0, "date": "2007-08-18", "value": 63.9}, {"id": "Sverige", "ord": 1, "date": "2007-07-03", "value": 63.9}, {"id": "Sverige", "ord": 2, "date": "2007-06-19", "value": 59.9},
                          {"id": "USA", "ord": 0, "date": "2007-02-16", "value": 44.1}, {"id": "USA", "ord": 1, "date": "2007-01-20", "value": 44.1}, {"id": "USA", "ord": 2, "date": "2007-01-07", "value": 48.6},
                          {"id": "Storbritannia", "ord": 0, "date": "2007-05-20", "value": 46.1}, {"id": "Storbritannia", "ord": 1, "date": "2007-04-06", "value": 46.1}, {"id": "Storbritannia", "ord": 2, "date": "2007-03-11", "value": 54.0},
                          {"id": "Japan", "ord": 0, "date": "2007-11-17", "value": 44.1}, {"id": "Japan", "ord": 1, "date": "2007-10-03", "value": 44.1}, {"id": "Japan", "ord": 2, "date": "2007-09-18", "value": 48.1},
                          {"id": "Australia", "ord": 0, "date": "2008-03-09", "value": 43.2}, {"id": "Australia", "ord": 1, "date": "2008-01-30", "value": 43.2}, {"id": "Australia", "ord": 2, "date": "2008-01-08", "value": 48.1},
                          {"id": "Norge", "ord": 0, "date": "2008-06-04", "value": 57.5}, {"id": "Norge", "ord": 1, "date": "2008-04-22", "value": 57.5}, {"id": "Norge", "ord": 2, "date": "2008-04-09", "value": 53.5},
                          {"id": "New Zealand", "ord": 0, "date": "2008-11-10", "value": 49.3}, {"id": "New Zealand", "ord": 1, "date": "2008-09-24", "value": 49.3}, {"id": "New Zealand", "ord": 2, "date": "2008-09-13", "value": 45.1},
                          {"id": "Eurosonen", "ord": 0, "date": "2008-11-28", "value": 45.6}, {"id": "Eurosonen", "ord": 1, "date": "2008-10-12", "value": 45.6}, {"id": "Eurosonen", "ord": 2, "date": "2008-10-01", "value": 41.7}]},
                       "mark": {"type": "line", "color": "#333333", "strokeWidth": 0.9},
                       "encoding": {"y": {"field": "value", "type": "quantitative", "scale": {"domain": [13.615, 74.948], "nice": false, "zero": false},
                                          "axis": {"orient": "left", "offset": -38, "values": [30, 40, 50, 60, 70], "labelPadding": 3, "title": null}},
                                    "detail": {"field": "id"}, "order": {"field": "ord"}}}
                    ]
                  }
                ],
                "resolve": {"scale": {"y": "independent"}}
              },
              {
                "width": 588, "height": 67,
                "layer": [
                  {"data": {"values": [{"line": 0, "text": "Innkjøpssjefsindeksen skyter fart:"}]},
                   "mark": {"type": "text", "align": "left", "baseline": "middle", "fontSize": 10.2, "fontWeight": "bold", "color": "#231f20", "dx": 2},
                   "encoding": {"x": {"datum": 0, "type": "quantitative", "scale": {"domain": [0, 1]}, "axis": null},
                                "y": {"field": "line", "type": "quantitative", "scale": {"domain": [-1, 3.786], "reverse": true, "nice": false, "zero": false}, "axis": null},
                                "text": {"field": "text"}}},
                  {"data": {"values": [{"line": 0, "text": "En av de viktigste forventingsindikatorene i økonomien, ISM, som måler stemningen blant inn-"}]},
                   "mark": {"type": "text", "align": "left", "baseline": "middle", "fontSize": 10.2, "color": "#231f20", "dx": 155},
                   "encoding": {"x": {"datum": 0, "type": "quantitative", "scale": {"domain": [0, 1]}, "axis": null},
                                "y": {"field": "line", "type": "quantitative", "scale": {"domain": [-1, 3.786], "reverse": true, "nice": false, "zero": false}, "axis": null},
                                "text": {"field": "text"}}},
                  {"data": {"values": [{"line": 1, "text": "kjøpssjefene innen industrien, øker nå på bred front i den vestlige verden."}]},
                   "mark": {"type": "text", "align": "left", "baseline": "middle", "fontSize": 10.2, "color": "#231f20", "dx": 2},
                   "encoding": {"x": {"datum": 0, "type": "quantitative", "scale": {"domain": [0, 1]}, "axis": null},
                                "y": {"field": "line", "type": "quantitative", "scale": {"domain": [-1, 3.786], "reverse": true, "nice": false, "zero": false}, "axis": null},
                                "text": {"field": "text"}}}
                ]
              },
              {
                "hconcat": [
                  {
                    "width": 300, "height": 490,
                    "layer": [
                      {"data": {"name": "col2"},
                       "mark": {"type": "text", "align": "left", "baseline": "middle", "fontSize": 12.8, "color": "#231f20", "dx": 2},
                       "encoding": {"x": {"datum": 0, "type": "quantitative", "scale": {"domain": [0, 1]}, "axis": null},
                                    "y": {"field": "line", "type": "quantitative", "scale": {"domain": [35.09, 63.796], "reverse": true, "nice": false, "zero": false}, "axis": null},
                                    "text": {"field": "text"}}},
                      {"data": {"values": [{"line": 53, "text": "Vekstmarkedene i førersetet"}]},
                       "mark": {"type": "text", "align": "left", "baseline": "middle", "fontSize": 14, "fontWeight": "bold", "color": "#231f20", "dx": 2, "dy": -3},
                       "encoding": {"x": {"datum": 0, "type": "quantitative", "scale": {"domain": [0, 1]}, "axis": null},
                                    "y": {"field": "line", "type": "quantitative", "scale": {"domain": [35.09, 63.796], "reverse": true, "nice": false, "zero": false}, "axis": null},
                                    "text": {"field": "text"}}}
                    ]
                  },
                  {
                    "width": 282, "height": 490,
                    "data": {"name": "col3"},
                    "mark": {"type": "text", "align": "left", "baseline": "middle", "fontSize": 12.8, "color": "#231f20", "dx": 2},
                    "encoding": {"x": {"datum": 0, "type": "quantitative", "scale": {"domain": [0, 1]}, "axis": null},
                                 "y": {"field": "line", "type": "quantitative", "scale": {"domain": [35.09, 63.796], "reverse": true, "nice": false, "zero": false}, "axis": null},
                                 "text": {"field": "text"}}
                  }
                ],
                "spacing": 7
              }
            ],
            "spacing": 0
          }
        ],
        "spacing": 23
      },
      {
        "vconcat": [
          {
            "width": 955, "height": 2,
            "view": {"fill": "#3a6890", "stroke": null},
            "data": {"values": [{"text": ""}]},
            "mark": {"type": "text"},
            "encoding": {"text": {"field": "text"}}
          },
          {
            "width": 955, "height": 10,
            "layer": [
              {"data": {"values": [{"text": "SKAGEN FONDENES MARKEDSRAPPORT"}]},
               "mark": {"type": "text", "align": "left", "baseline": "middle", "fontSize": 9, "color": "#3c4b5c", "dx": 643},
               "encoding": {"x": {"datum": 0, "type": "quantitative", "scale": {"domain": [0, 1]}, "axis": null}, "text": {"field": "text"}}},
              {"data": {"values": [{"text": "✱"}]},
               "mark": {"type": "text", "align": "center", "baseline": "middle", "fontSize": 9.5, "color": "#f07f22", "dx": 822},
               "encoding": {"x": {"datum": 0, "type": "quantitative", "scale": {"domain": [0, 1]}, "axis": null}, "text": {"field": "text"}}},
              {"data": {"values": [{"text": "NUMMER 4"}]},
               "mark": {"type": "text", "align": "left", "baseline": "middle", "fontSize": 9, "color": "#3c4b5c", "dx": 829},
               "encoding": {"x": {"datum": 0, "type": "quantitative", "scale": {"domain": [0, 1]}, "axis": null}, "text": {"field": "text"}}},
              {"data": {"values": [{"text": "✱"}]},
               "mark": {"type": "text", "align": "center", "baseline": "middle", "fontSize": 9.5, "color": "#f07f22", "dx": 885},
               "encoding": {"x": {"datum": 0, "type": "quantitative", "scale": {"domain": [0, 1]}, "axis": null}, "text": {"field": "text"}}},
              {"data": {"values": [{"text": "AUGUST 2009"}]},
               "mark": {"type": "text", "align": "left", "baseline": "middle", "fontSize": 9, "color": "#3c4b5c", "dx": 893},
               "encoding": {"x": {"datum": 0, "type": "quantitative", "scale": {"domain": [0, 1]}, "axis": null}, "text": {"field": "text"}}}
            ]
          }
        ],
        "spacing": 0
      }
    ],
    "spacing": 20
  }
],
"spacing": 45
}
